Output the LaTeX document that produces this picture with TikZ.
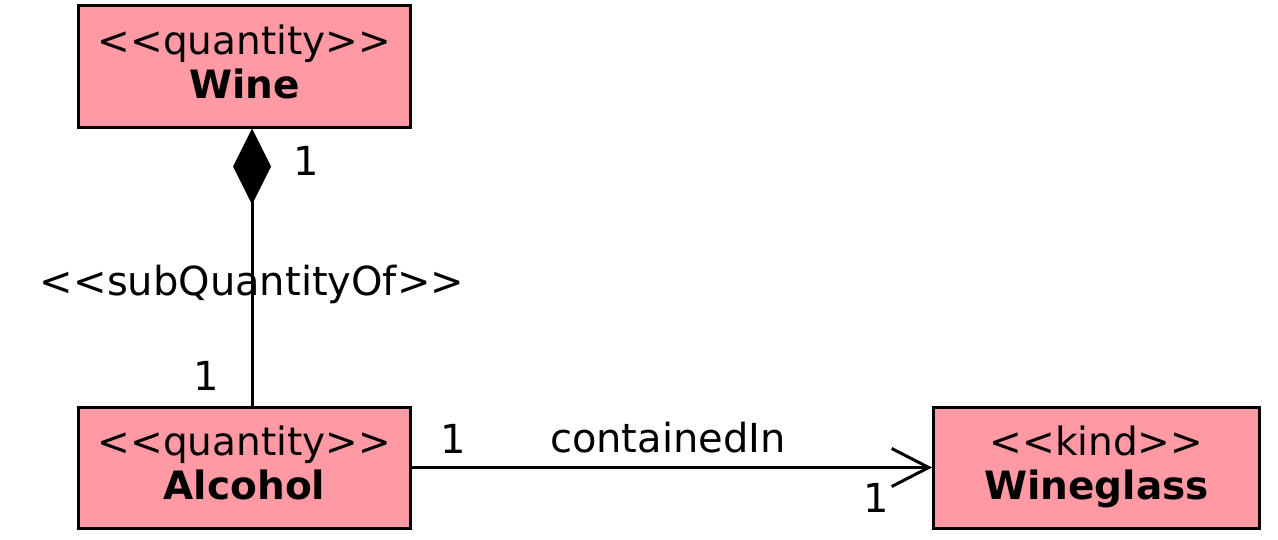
\documentclass[tikz,border=0pt]{standalone}
\usepackage{fontspec}
\newfontfamily\umlfont{DejaVu Sans}
\usetikzlibrary{positioning, arrows.meta}
\definecolor{classpink}{RGB}{255,153,163}

\begin{document}
\begin{tikzpicture}[
  x=0.5pt, y=-0.5pt,
  node distance=138.5pt and 260pt,
  cls/.style={draw, line width=1.5pt, fill=classpink, minimum width=166pt,
    minimum height=60.5pt, align=center, inner sep=0pt,
    font=\umlfont\fontsize{19.5}{22}\selectfont},
  lbl/.style={inner sep=0pt, font=\umlfont\fontsize{20}{22}\selectfont},
  comp/.style={{Diamond[length=38pt, width=19pt]}-, line width=1.5pt},
  nav/.style={-{Straight Barb[length=18.5pt, width=19pt]}, line width=1.5pt}
]
  \useasboundingbox (0,0) rectangle (1278,540);

  \node[cls] (wine) at (244.5,66.5) {<<quantity>>\\\textbf{Wine}\\[-17pt]};
  \node[cls, below=of wine] (alcohol) {<<quantity>>\\\textbf{Alcohol}\\[-17pt]};
  \node[cls, right=of alcohol, minimum width=163pt] (wineglass) {<<kind>>\\\textbf{Wineglass}\\[-17pt]};

  \draw[comp] ([xshift=3.75pt]wine.south) -- ([xshift=3.75pt]alcohol.north)
    node[lbl, pos=0.117, right=20pt] (winemult) {1}
    node[lbl, pos=0.562] (subqty) {<<subQuantityOf>>}
    node[lbl, pos=0.893, left=16pt] (alcmult) {1};

  \draw[nav] (alcohol) -- (wineglass)
    node[lbl, pos=0.079, above=6.5pt] (srcmult) {1}
    node[lbl, pos=0.492, above=6.5pt] (contained) {containedIn}
    node[lbl, pos=0.893, below=7pt] (tgtmult) {1};
\end{tikzpicture}
\end{document}
